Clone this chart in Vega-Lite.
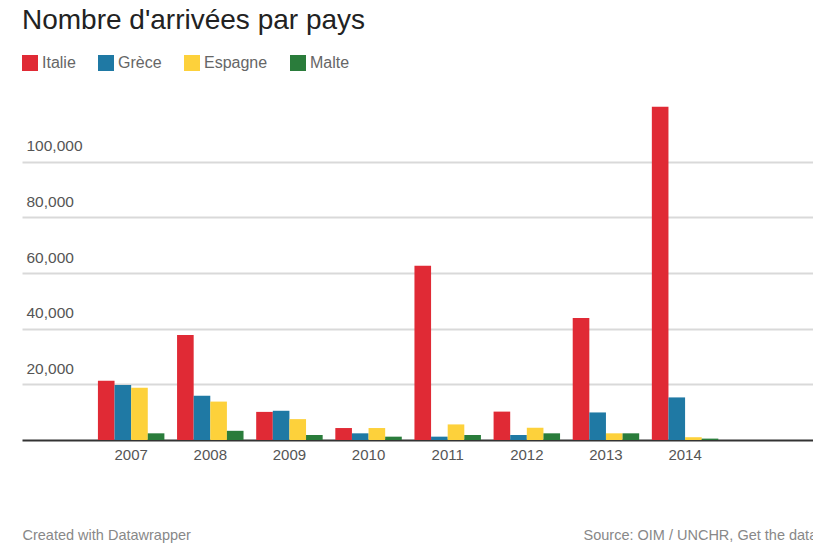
{
  "$schema": "https://vega.github.io/schema/vega-lite/v6.json",
  "width": 791,
  "height": 334,
  "autosize": {"type": "none"},
  "padding": {"left": 22, "top": 106, "right": 0, "bottom": 105},
  "background": "white",
  "title": {
    "text": "Nombre d'arrivées par pays",
    "anchor": "start",
    "frame": "group",
    "font": "Liberation Sans",
    "fontSize": 28,
    "fontWeight": "normal",
    "color": "#222222",
    "baseline": "alphabetic",
    "offset": -2
  },
  "config": {
    "view": {"stroke": null},
    "font": "Liberation Sans"
  },
  "data": {
    "values": [
      {"annee": "2007", "pays": "Italie", "arrivees": 21300},
      {"annee": "2007", "pays": "Grèce", "arrivees": 19750},
      {"annee": "2007", "pays": "Espagne", "arrivees": 18800},
      {"annee": "2007", "pays": "Malte", "arrivees": 2400},
      {"annee": "2008", "pays": "Italie", "arrivees": 37700},
      {"annee": "2008", "pays": "Grèce", "arrivees": 15900},
      {"annee": "2008", "pays": "Espagne", "arrivees": 13800},
      {"annee": "2008", "pays": "Malte", "arrivees": 3300},
      {"annee": "2009", "pays": "Italie", "arrivees": 10100},
      {"annee": "2009", "pays": "Grèce", "arrivees": 10500},
      {"annee": "2009", "pays": "Espagne", "arrivees": 7500},
      {"annee": "2009", "pays": "Malte", "arrivees": 1800},
      {"annee": "2010", "pays": "Italie", "arrivees": 4300},
      {"annee": "2010", "pays": "Grèce", "arrivees": 2400},
      {"annee": "2010", "pays": "Espagne", "arrivees": 4300},
      {"annee": "2010", "pays": "Malte", "arrivees": 1200},
      {"annee": "2011", "pays": "Italie", "arrivees": 62600},
      {"annee": "2011", "pays": "Grèce", "arrivees": 1200},
      {"annee": "2011", "pays": "Espagne", "arrivees": 5600},
      {"annee": "2011", "pays": "Malte", "arrivees": 1800},
      {"annee": "2012", "pays": "Italie", "arrivees": 10200},
      {"annee": "2012", "pays": "Grèce", "arrivees": 1800},
      {"annee": "2012", "pays": "Espagne", "arrivees": 4400},
      {"annee": "2012", "pays": "Malte", "arrivees": 2400},
      {"annee": "2013", "pays": "Italie", "arrivees": 43800},
      {"annee": "2013", "pays": "Grèce", "arrivees": 9900},
      {"annee": "2013", "pays": "Espagne", "arrivees": 2400},
      {"annee": "2013", "pays": "Malte", "arrivees": 2400},
      {"annee": "2014", "pays": "Italie", "arrivees": 119700},
      {"annee": "2014", "pays": "Grèce", "arrivees": 15300},
      {"annee": "2014", "pays": "Espagne", "arrivees": 1000},
      {"annee": "2014", "pays": "Malte", "arrivees": 500}
    ]
  },
  "mark": {"type": "bar"},
  "encoding": {
    "x": {
      "field": "annee",
      "type": "nominal",
      "scale": {
        "domain": ["2007", "2008", "2009", "2010", "2011", "2012", "2013", "2014", ""],
        "paddingInner": 0.16,
        "paddingOuter": 0.578,
        "align": 0.83
      },
      "axis": {
        "labelAngle": 0,
        "labelFont": "Liberation Sans",
        "labelFontSize": 15,
        "labelColor": "#555555",
        "ticks": false,
        "tickSize": 0,
        "labelPadding": 7,
        "domain": false,
        "grid": false,
        "title": "Created with Datawrapper",
        "titleFont": "Liberation Sans",
        "titleFontSize": 14.5,
        "titleFontWeight": "normal",
        "titleColor": "#888888",
        "titleAnchor": "start",
        "titleAlign": "left",
        "titleBaseline": "alphabetic",
        "titleX": 0,
        "titleY": 99
      }
    },
    "xOffset": {
      "field": "pays",
      "type": "nominal",
      "scale": {"domain": ["Italie", "Grèce", "Espagne", "Malte"], "paddingInner": 0, "paddingOuter": 0}
    },
    "y": {
      "field": "arrivees",
      "type": "quantitative",
      "scale": {"domain": [0, 120000], "nice": false},
      "axis": {
        "values": [0, 20000, 40000, 60000, 80000, 100000],
        "format": ",d",
        "labelExpr": "datum.value === 0 ? '' : datum.label",
        "grid": true,
        "gridColor": {"condition": {"test": "datum.value === 0", "value": "#333333"}, "value": "#d9d9d9"},
        "gridWidth": 2,
        "domain": false,
        "ticks": false,
        "tickSize": 0,
        "labelAlign": "left",
        "labelBaseline": "alphabetic",
        "labelPadding": -4,
        "labelOffset": -11,
        "labelFont": "Liberation Sans",
        "labelFontSize": 15.5,
        "labelColor": "#555555",
        "title": "Source: OIM / UNCHR, Get the data",
        "titleAngle": 0,
        "titleAlign": "left",
        "titleBaseline": "alphabetic",
        "titleFont": "Liberation Sans",
        "titleFontSize": 14.5,
        "titleFontWeight": "normal",
        "titleColor": "#888888",
        "titleX": 561,
        "titleY": 433
      }
    },
    "color": {
      "field": "pays",
      "type": "nominal",
      "scale": {
        "domain": ["Italie", "Grèce", "Espagne", "Malte"],
        "range": ["#e02a35", "#1f79a4", "#fdd13b", "#2a7c3b"]
      },
      "legend": {
        "title": null,
        "orient": "none",
        "legendX": 0,
        "legendY": -51,
        "direction": "horizontal",
        "symbolType": "square",
        "symbolSize": 256,
        "symbolStrokeWidth": 0,
        "symbolOpacity": 1,
        "labelFont": "Liberation Sans",
        "labelFontSize": 16,
        "labelColor": "#666666",
        "labelOffset": 4,
        "columnPadding": 22
      }
    }
  }
}
